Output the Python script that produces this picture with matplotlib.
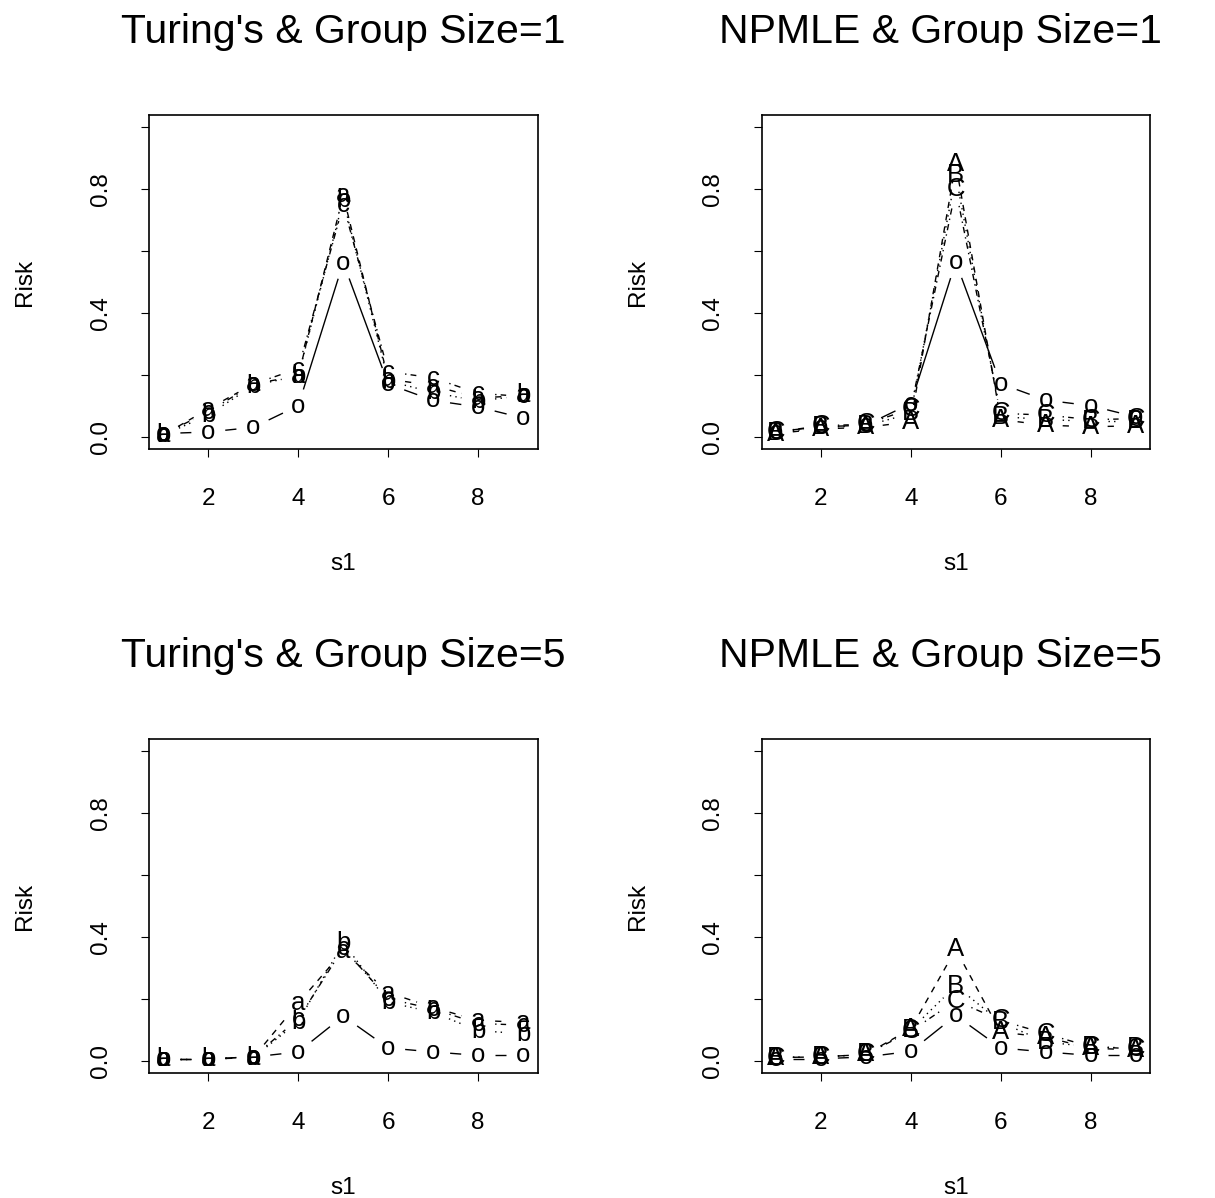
import numpy as np
import matplotlib
matplotlib.use("Agg")
import matplotlib.pyplot as plt

plt.rcParams['font.family'] = ['Liberation Sans', 'DejaVu Sans']
plt.rcParams['lines.scale_dashes'] = False

s1 = [1, 2, 3, 4, 5, 6, 7, 8, 9]

turing_g1_o = [0.010, 0.015, 0.030, 0.100, 0.563, 0.170, 0.117, 0.096, 0.060]
turing_g1_a = [0.005, 0.090, 0.170, 0.197, 0.780, 0.186, 0.165, 0.125, 0.133]
turing_g1_b = [0.005, 0.070, 0.165, 0.197, 0.765, 0.180, 0.143, 0.115, 0.133]
turing_g1_c = [0.008, 0.080, 0.170, 0.220, 0.750, 0.210, 0.190, 0.140, 0.130]

npmle_g1_o = [0.016, 0.032, 0.037, 0.107, 0.565, 0.171, 0.118, 0.100, 0.064]
npmle_g1_A = [0.010, 0.025, 0.030, 0.048, 0.883, 0.055, 0.037, 0.032, 0.035]
npmle_g1_B = [0.012, 0.030, 0.035, 0.075, 0.846, 0.065, 0.055, 0.050, 0.050]
npmle_g1_C = [0.015, 0.035, 0.040, 0.090, 0.800, 0.075, 0.070, 0.055, 0.058]

turing_g5_o = [0.006, 0.006, 0.012, 0.028, 0.144, 0.041, 0.028, 0.017, 0.017]
turing_g5_a = [0.005, 0.005, 0.010, 0.186, 0.354, 0.220, 0.172, 0.130, 0.124]
turing_g5_b = [0.005, 0.005, 0.010, 0.126, 0.381, 0.189, 0.156, 0.097, 0.087]
turing_g5_c = [0.006, 0.006, 0.012, 0.135, 0.364, 0.200, 0.167, 0.120, 0.115]

npmle_g5_o = [0.006, 0.006, 0.012, 0.030, 0.146, 0.041, 0.028, 0.017, 0.017]
npmle_g5_A = [0.010, 0.012, 0.020, 0.103, 0.360, 0.092, 0.076, 0.040, 0.035]
npmle_g5_B = [0.010, 0.012, 0.020, 0.100, 0.242, 0.124, 0.060, 0.045, 0.040]
npmle_g5_C = [0.010, 0.012, 0.020, 0.095, 0.194, 0.130, 0.087, 0.045, 0.038]

line_styles = ['-', (0, (4.5, 4.5)), (0, (1, 3)), (0, (1, 3, 4.5, 3))]

GAP = 17  # pixels cut out round each point, like R type="b"
PX = 1215.0
PY = 1198.0


def draw_b(ax, x, y, label, ls):
    pts = ax.transData.transform(np.column_stack([x, y]))
    for p0, p1 in zip(pts[:-1], pts[1:]):
        d = np.hypot(*(p1 - p0))
        if d <= 2 * GAP:
            continue
        u = (p1 - p0) / d
        seg = ax.transData.inverted().transform([p0 + u * GAP, p1 - u * GAP])
        ax.plot(seg[:, 0], seg[:, 1], color='black', lw=1.0, linestyle=ls,
                solid_capstyle='butt', dash_capstyle='butt')
    for xi, yi in zip(x, y):
        ax.text(xi, yi, label, ha='center', va='center', fontsize=18.5)


def panel(left_px, top_px, title, series, labels, title_x=0.5):
    ax = fig.add_axes([left_px / PX, 1 - (top_px + 334) / PY, 388.5 / PX, 334 / PY])
    ax.set_xlim(0.68, 9.32)
    ax.set_ylim(-0.04, 1.04)
    ax.set_xticks([2, 4, 6, 8])
    ax.set_yticks([0.0, 0.2, 0.4, 0.6, 0.8, 1.0])
    ax.set_yticklabels(['0.0', '', '0.4', '', '0.8', ''], rotation=90, va='center')
    ax.tick_params(axis='both', length=6, width=0.8, labelsize=17.5)
    ax.tick_params(axis='x', pad=22)
    ax.tick_params(axis='y', pad=21)
    for sp in ax.spines.values():
        sp.set_linewidth(1.2)
    for vals, lab, ls in zip(series, labels, line_styles):
        draw_b(ax, s1, vals, lab, ls)
    ax.set_xlabel('s1', fontsize=17.5)
    ax.xaxis.set_label_coords(0.5, -0.312)
    ax.set_ylabel('Risk', fontsize=17.5)
    ax.yaxis.set_label_coords(-0.29, 0.5)
    ax.text(title_x, 1.0 + 72 / 334.0, title, transform=ax.transAxes,
            ha='center', va='baseline', fontsize=29.5)
    return ax


fig = plt.figure(figsize=(12.15, 11.98), dpi=100)

panel(149, 115, "Turing's & Group Size=1",
      [turing_g1_o, turing_g1_a, turing_g1_b, turing_g1_c], ['o', 'a', 'b', 'c'])
panel(761.5, 115, "NPMLE & Group Size=1",
      [npmle_g1_o, npmle_g1_A, npmle_g1_B, npmle_g1_C], ['o', 'A', 'B', 'C'], title_x=0.46)
panel(149, 739, "Turing's & Group Size=5",
      [turing_g5_o, turing_g5_a, turing_g5_b, turing_g5_c], ['o', 'a', 'b', 'c'])
panel(761.5, 739, "NPMLE & Group Size=5",
      [npmle_g5_o, npmle_g5_A, npmle_g5_B, npmle_g5_C], ['o', 'A', 'B', 'C'], title_x=0.46)

fig.savefig('out.png', dpi=100)
